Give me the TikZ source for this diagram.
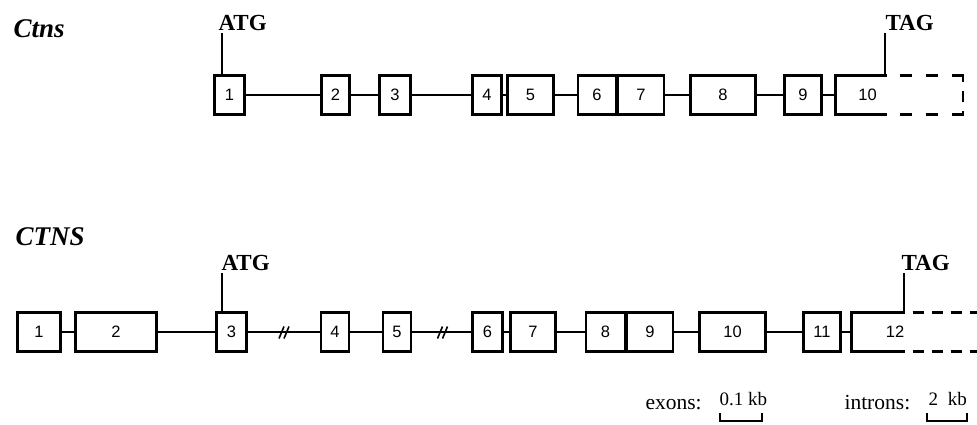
\documentclass[tikz,border=0pt]{standalone}
\usepackage{fontspec}
\setmainfont{Liberation Serif}
\setsansfont{Liberation Sans}
\begin{document}
\begin{tikzpicture}[x=1pt,y=-1pt,
  boxline/.style={line width=2.9pt},
  exon/.style={draw, boxline, inner sep=0pt, outer sep=0pt, minimum height=39pt,
    font=\sffamily\fontsize{16.5}{16.5}\selectfont},
  openexon/.style={exon, draw=none},
  intron/.style={line width=2.9pt},
  dashpart/.style={boxline, dash pattern=on 12pt off 14pt, dash phase=13pt},
  dashside/.style={boxline, dash pattern=on 8pt off 9pt on 11pt off 9pt on 8pt},
  dashpartb/.style={boxline, dash pattern=on 11pt off 8pt, dash phase=11pt},
  brk/.style={line width=1.6pt},
  genename/.style={anchor=base west, font=\bfseries\itshape\fontsize{27}{27}\selectfont},
  codon/.style={anchor=base west, font=\bfseries\fontsize{23}{23}\selectfont},
  stem/.style={line width=2.9pt},
  scaletxt/.style={anchor=base west, font=\fontsize{21.5}{21.5}\selectfont},
  scalenum/.style={anchor=base west, font=\fontsize{19}{19}\selectfont},
  bracket/.style={line width=2.6pt}
]
\useasboundingbox (0,0) rectangle (977,424);

% ---------------- Ctns ----------------
\node[genename] (ctns) at (10,37) {Ctns};
\node[exon, minimum width=30.5pt] (t1) at (229.5,95) {1};
\node[exon, minimum width=28.5pt] (t2) at (335.5,95) {2};
\node[exon, minimum width=31.5pt] (t3) at (395,95) {3};
\node[exon, minimum width=29.5pt] (t4) at (487,95) {4};
\node[exon, minimum width=46.5pt] (t5) at (530.5,95) {5};
\node[exon, minimum width=38pt] (t6) at (597,95) {6};
\node[exon, minimum width=46pt] (t7) at (641,95) {7};
\node[exon, minimum width=65.5pt] (t8) at (723,95) {8};
\node[exon, minimum width=37.5pt] (t9) at (803,95) {9};
\node[openexon, minimum width=51pt,
  label={[font=\sffamily\fontsize{16.5}{16.5}\selectfont, xshift=6.5pt]center:10}] (t10) at (861,95) {};
\draw[boxline] (t10.north east) -- (t10.north west) -- (t10.south west) -- (t10.south east);
\coordinate (t10x) at (963,115);
\draw[dashpart] (t10.north east) -- (t10x |- t10.north);
\draw[dashpart] (t10.south east) -- (t10x |- t10.south);
\draw[dashside] ([yshift=1.45pt]t10x |- t10.north) -- ([yshift=-1.45pt]t10x |- t10.south);

\foreach \a/\b in {t1/t2,t2/t3,t3/t4,t4/t5,t5/t6,t7/t8,t8/t9,t9/t10}
  \draw[intron] (\a.east) -- (\b.west);

\coordinate (atg1) at (222,33);
\draw[stem] (atg1) -- (atg1 |- t1.north);
\node[codon] (atg1txt) at (215,30) {ATG};
\coordinate (tag1) at (885,33);
\draw[stem] (tag1) -- (tag1 |- t10.north);
\node[codon] (tag1txt) at (882,30) {TAG};

% ---------------- CTNS ----------------
\node[genename] (ctnsH) at (12,245) {CTNS};
\node[exon, minimum width=43.5pt] (b1) at (39,332) {1};
\node[exon, minimum width=81.5pt] (b2) at (116,332) {2};
\node[exon, minimum width=30.5pt] (b3) at (231.5,332) {3};
\node[exon, minimum width=28pt] (b4) at (335,332) {4};
\node[exon, minimum width=28pt] (b5) at (397,332) {5};
\node[exon, minimum width=30.5pt] (b6) at (487.5,332) {6};
\node[exon, minimum width=45.5pt] (b7) at (533,332) {7};
\node[exon, minimum width=39pt] (b8) at (605.5,332) {8};
\node[exon, minimum width=46pt] (b9) at (650,332) {9};
\node[exon, minimum width=66.5pt] (b10) at (732.5,332) {10};
\node[exon, minimum width=37.5pt] (b11) at (822,332) {11};
\node[openexon, minimum width=53pt,
  label={[font=\sffamily\fontsize{16.5}{16.5}\selectfont, xshift=17pt]center:12}] (b12) at (878,332) {};
\draw[boxline] (b12.north east) -- (b12.north west) -- (b12.south west) -- (b12.south east);
\coordinate (b12x) at (990,332);
\draw[dashpartb] (b12.north east) -- (b12x |- b12.north);
\draw[dashpartb] (b12.south east) -- (b12x |- b12.south);

\foreach \a/\b in {b1/b2,b2/b3,b3/b4,b4/b5,b5/b6,b6/b7,b7/b8,b9/b10,b10/b11,b11/b12}
  \draw[intron] (\a.east) -- (\b.west);

% break marks
\foreach \x in {281.5,286.5,440,445}
  \draw[brk] (\x-2.5,338.5) -- (\x+2.5,326.5);

\coordinate (atg2) at (222,273);
\draw[stem] (atg2) -- (atg2 |- b3.north);
\node[codon] (atg2txt) at (218,270) {ATG};
\coordinate (tag2) at (904,273);
\draw[stem] (tag2) -- (tag2 |- b12.north);
\node[codon] (tag2txt) at (898,270) {TAG};

% ---------------- scale bars ----------------
\node[scaletxt] (exons) at (642,409) {exons:};
\node[scalenum] (exkb) at (716,405) {0.1 kb};
\coordinate (exL) at (720,413);
\coordinate (exR) at (762,413);
\draw[bracket] (exL) -- ++(0,8) -| (exR);
\node[scaletxt] (introns) at (841,409) {introns:};
\node[scalenum] (inkb) at (925,405) {2\hspace{5pt} kb};
\coordinate (inL) at (927,413);
\coordinate (inR) at (967,413);
\draw[bracket] (inL) -- ++(0,8) -| (inR);
\end{tikzpicture}
\end{document}
